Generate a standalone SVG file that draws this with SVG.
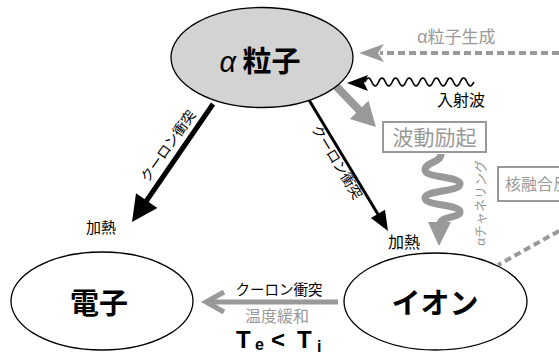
<svg xmlns="http://www.w3.org/2000/svg" width="559" height="354" viewBox="0 0 559 354">
<style>
.node{stroke:#000;stroke-width:1.3}
.t{font-family:"Noto Sans CJK JP","Liberation Sans",sans-serif}
.big{font-size:29px;font-weight:bold;text-anchor:middle}
.gray{fill:#999}
.gs{stroke:#999;fill:none}
.box{fill:#fff;stroke:#999;stroke-width:2}
.dash{stroke:#999;stroke-width:4;stroke-dasharray:7 4;fill:none}
.tb{font-family:"Liberation Sans",sans-serif;font-weight:bold}
</style>
<rect width="559" height="354" fill="#fff"/>
<g id="connectors">
  <line class="dash" x1="559" y1="53" x2="380" y2="53"/>
  <polygon class="gray" points="359,53 384,44 378,53 384,62"/>
  <line class="dash" x1="559" y1="231" x2="498" y2="265"/>
  <path d="M365,82 q3.4,-8 6.8,0 t6.8,0 t6.8,0 t6.8,0 t6.8,0 t6.8,0 t6.8,0 t6.8,0 t6.8,0 t6.8,0 t6.8,0 t6.8,0 t6.8,0 t6.8,0 t6.8,0 t6.8,0" fill="none" stroke="#000" stroke-width="1.6"/>
  <polygon points="347,83 368,75 364,83 368,91" fill="#000"/>
  <line x1="334" y1="84" x2="361" y2="112" stroke="#999" stroke-width="8"/>
  <polygon class="gray" points="376,127 368.5,100.7 349.9,118.9"/>
  <path class="gs" stroke-width="7" d="M441,154 C441,163 425,162 425,170 C425,178 460,176 460,184 C460,192 425,190 425,198 C425,206 460,204 460,212 C460,218 440,216 440,224"/>
  <polygon class="gray" points="439,246 428,222 451,222"/>
  <line x1="213" y1="104" x2="145" y2="203" stroke="#000" stroke-width="5"/>
  <polygon points="132,222 157.4,208 136,193.2" fill="#000"/>
  <line x1="309" y1="100" x2="379" y2="216" stroke="#000" stroke-width="3"/>
  <polygon points="388,231 385,209.8 370.9,218" fill="#000"/>
  <line x1="338" y1="302" x2="207" y2="302" stroke="#999" stroke-width="5"/>
  <polyline class="gs" stroke-width="5" points="224,292 206,302 224,312"/>
  <text class="t gray" x="417" y="43" font-size="17">α粒子生成</text>
  <text class="t" x="437" y="106" font-size="16">入射波</text>
  <text class="t gray" font-size="13" text-anchor="middle" transform="translate(480,203) rotate(-90)" dy="4.5">αチャネリング</text>
  <text class="t" font-size="14" text-anchor="middle" transform="translate(168,146) rotate(-55)" dy="5">クーロン衝突</text>
  <text class="t" font-size="14" text-anchor="middle" transform="translate(337,162) rotate(58.7)" dy="5">クーロン衝突</text>
  <text class="t" x="86" y="233" font-size="15">加熱</text>
  <text class="t" x="388" y="248" font-size="16">加熱</text>
  <text class="t" x="279" y="295" font-size="14.5" text-anchor="middle">クーロン衝突</text>
  <text class="t gray" x="277" y="322" font-size="16" text-anchor="middle">温度緩和</text>
  <text class="tb" font-size="24" x="236" y="348">T</text>
  <text class="tb" font-size="16" x="255" y="350">e</text>
  <text class="tb" font-size="24" x="271" y="348">&lt;</text>
  <text class="tb" font-size="24" x="297" y="348">T</text>
  <text class="tb" font-size="16" x="317" y="352">i</text>
</g>
<g id="alpha">
  <ellipse class="node" cx="262" cy="57.5" rx="91" ry="50" fill="#d3d3d3"/>
  <text class="t big" x="260" y="72"><tspan font-family="Liberation Sans,sans-serif" font-style="italic" font-weight="normal">α</tspan> 粒子</text>
</g>
<g id="excitation">
  <rect class="box" x="383" y="122" width="103" height="30"/>
  <text class="t gray" x="434.5" y="144.5" font-size="21" text-anchor="middle">波動励起</text>
</g>
<g id="fusion">
  <rect class="box" x="498" y="167" width="80" height="34"/>
  <text class="t gray" x="505" y="190" font-size="16">核融合反</text>
</g>
<g id="electron">
  <ellipse class="node" cx="102" cy="301" rx="91" ry="49" fill="#fff"/>
  <text class="t big" x="99" y="314">電子</text>
</g>
<g id="ion">
  <ellipse class="node" cx="435.5" cy="301.5" rx="91.5" ry="48.5" fill="#fff"/>
  <text class="t big" x="435" y="314">イオン</text>
</g>
</svg>
